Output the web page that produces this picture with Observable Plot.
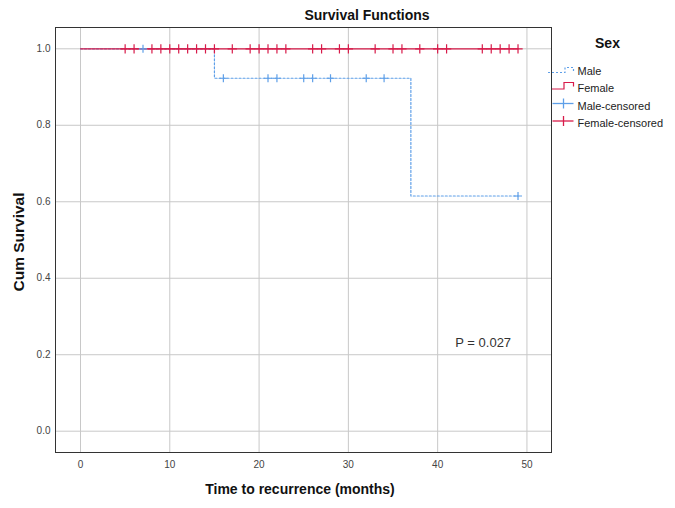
<!DOCTYPE html>
<html>
<head>
<meta charset="utf-8">
<script src="https://cdn.jsdelivr.net/npm/d3@7"></script>
<script src="https://cdn.jsdelivr.net/npm/@observablehq/plot@0.6"></script>
<style>
  html, body { margin: 0; padding: 0; background: #fff; }
  #chart { width: 675px; height: 508px; }
</style>
</head>
<body>
<div id="chart"></div>
<script>
// ---- data ----
const xTicks = [0, 10, 20, 30, 40, 50];
const yTicks = [0.0, 0.2, 0.4, 0.6, 0.8, 1.0];

// Male Kaplan-Meier steps (time, survival)
const maleTimes = [0, 15, 37, 49];
const maleSurv  = [1.0, 0.923, 0.615, 0.615];
// Male censored
const maleCensTimes = [7, 16, 21, 22, 25, 26, 28, 32, 34, 49];
const maleCensSurv  = [1.0, 0.923, 0.923, 0.923, 0.923, 0.923, 0.923, 0.923, 0.923, 0.615];

// Female (no events)
const femaleTimes = [0, 49];
const femaleSurv  = [1.0, 1.0];
const femaleCensTimes = [5, 6, 8, 9, 10, 11, 12, 13, 14, 15, 17, 19, 20, 21, 22, 23,
                         26, 27, 29, 30, 33, 35, 36, 38, 40, 41, 45, 46, 47, 48, 49];

const pLabel = "P = 0.027";
const pPos = {t: 45.1, s: 0.219};

const legendLabels = ["Male", "Female", "Male-censored", "Female-censored"];

// ---- build tables ----
const maleLine = maleTimes.map((t, i) => ({t, s: maleSurv[i]}));
const femaleLine = femaleTimes.map((t, i) => ({t, s: femaleSurv[i]}));
const maleCens = maleCensTimes.map((t, i) => ({t, s: maleCensSurv[i]}));
const femaleCens = femaleCensTimes.map(t => ({t, s: 1.0}));

const BLUE = "#5e9fe8";
const RED = "#d81b4a";
const FONT = "'Liberation Sans', Arial, sans-serif";

const chart = Plot.plot({
  width: 675,
  height: 508,
  marginLeft: 55,
  marginRight: 124,
  marginTop: 27,
  marginBottom: 56,
  style: {fontFamily: FONT, fontSize: "10px", background: "#fff", color: "#444"},
  x: {domain: [-2.8, 52.75], label: null},
  y: {domain: [-0.0557, 1.0557], label: null},
  marks: [
    Plot.gridX(xTicks, {stroke: "#c8c8c8", strokeOpacity: 1}),
    Plot.gridY(yTicks, {stroke: "#c8c8c8", strokeOpacity: 1}),
    Plot.axisX(xTicks, {tickSize: 0, tickPadding: 8, fill: "#444", tickFormat: d => d}),
    Plot.axisY(yTicks, {tickSize: 0, tickPadding: 5, fill: "#444", tickFormat: d3.format(".1f")}),
    Plot.line(maleLine, {x: "t", y: "s", curve: "step-after", stroke: BLUE, strokeWidth: 1.2, strokeDasharray: "2,2"}),
    Plot.line(femaleLine, {x: "t", y: "s", curve: "step-after", stroke: RED, strokeWidth: 1.2}),
    Plot.dot(maleCens, {x: "t", y: "s", symbol: "plus", r: 2.7, stroke: BLUE, strokeWidth: 1.2}),
    Plot.dot(femaleCens, {x: "t", y: "s", symbol: "plus", r: 3.1, stroke: RED, strokeWidth: 1.2}),
    Plot.text([pPos], {x: "t", y: "s", text: () => pLabel, lineAnchor: "bottom", fontSize: 13, fill: "#333", fontFamily: FONT}),
    Plot.frame({stroke: "#333", strokeWidth: 1})
  ]
});

document.getElementById("chart").appendChild(chart);

const svg = d3.select(chart);
// Title
svg.append("text").attr("x", 367).attr("y", 19.5).attr("text-anchor", "middle")
  .attr("font-family", FONT).attr("font-weight", "bold").attr("font-size", 14).attr("fill", "#111")
  .text("Survival Functions");
// X axis title
svg.append("text").attr("x", 300).attr("y", 494).attr("text-anchor", "middle")
  .attr("font-family", FONT).attr("font-weight", "bold").attr("font-size", 14).attr("fill", "#111")
  .text("Time to recurrence (months)");
// Y axis title
svg.append("text").attr("transform", "translate(24,242) rotate(-90)").attr("text-anchor", "middle")
  .attr("font-family", FONT).attr("font-weight", "bold").attr("font-size", 15.5).attr("fill", "#111")
  .text("Cum Survival");

// Legend
const lg = svg.append("g");
lg.append("text").attr("x", 607.5).attr("y", 48).attr("text-anchor", "middle")
  .attr("font-family", FONT).attr("font-weight", "bold").attr("font-size", 14).attr("fill", "#111")
  .text("Sex");
const baselines = [74.5, 92, 109.5, 126.5];
legendLabels.forEach((lab, i) => {
  lg.append("text").attr("x", 577.5).attr("y", baselines[i]).attr("text-anchor", "start")
    .attr("font-family", FONT).attr("font-size", 11).attr("fill", "#222").text(lab);
});
lg.append("path").attr("d", "M548,72.5 H565 V67.5 H573.5 V72").attr("fill", "none")
  .attr("stroke", BLUE).attr("stroke-width", 1.2).attr("stroke-dasharray", "2,2");
lg.append("path").attr("d", "M552,89 H564 V82.5 H573.5 V86.5").attr("fill", "none")
  .attr("stroke", RED).attr("stroke-width", 1.2);
lg.append("line").attr("x1", 552.5).attr("x2", 573.5).attr("y1", 103.5).attr("y2", 103.5)
  .attr("stroke", BLUE).attr("stroke-width", 1.3);
lg.append("line").attr("x1", 563.5).attr("x2", 563.5).attr("y1", 98.5).attr("y2", 108.5)
  .attr("stroke", BLUE).attr("stroke-width", 1.3);
lg.append("line").attr("x1", 552.5).attr("x2", 573.5).attr("y1", 121).attr("y2", 121)
  .attr("stroke", RED).attr("stroke-width", 1.3);
lg.append("line").attr("x1", 563.5).attr("x2", 563.5).attr("y1", 116).attr("y2", 126)
  .attr("stroke", RED).attr("stroke-width", 1.3);
</script>
</body>
</html>
